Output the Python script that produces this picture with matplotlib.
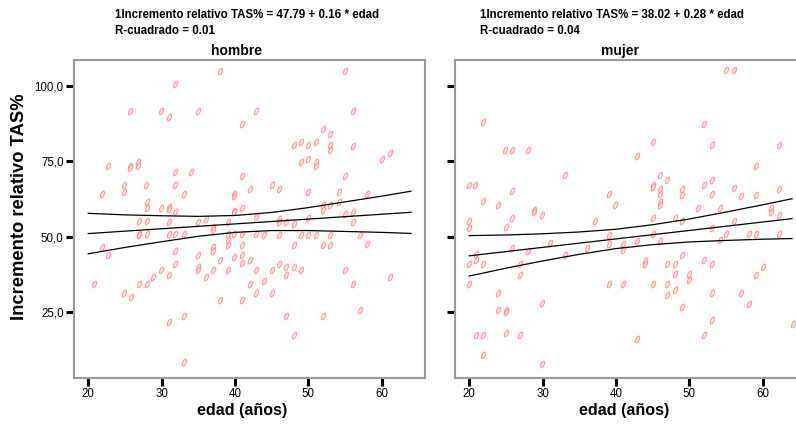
import numpy as np
import matplotlib
matplotlib.use("Agg")
import matplotlib.pyplot as plt
from matplotlib.path import Path
from matplotlib.transforms import Affine2D

# ==================================================
# DATA
# ==================================================

PANELS = ["hombre", "mujer"]

# regression coefficients printed above each panel
INTERCEPT = {"hombre": 47.79, "mujer": 38.02}
SLOPE = {"hombre": 0.16, "mujer": 0.28}
R2 = {"hombre": 0.01, "mujer": 0.04}

# scatter: age vs relative TAS increment
edad_hombre = [
    37.9, 31.8, 25.7, 29.9, 31.0, 34.9, 42.9, 40.9, 22.7, 25.7, 25.7, 26.8, 26.8,
    31.8, 34.0, 40.9, 24.9, 24.9, 27.9, 31.8, 21.9, 33.0, 39.9, 39.9, 42.0, 28.0,
    28.0, 29.9, 31.0, 31.0, 31.8, 39.9, 40.9, 26.9, 28.0, 31.0, 31.8, 31.0, 33.0,
    26.9, 26.9, 28.0, 34.9, 36.0, 37.0, 37.0, 39.0, 39.8, 42.9, 39.0, 39.0, 39.0,
    39.9, 40.9, 42.9, 21.9, 22.7, 31.8, 34.9, 37.0, 37.0, 40.9, 39.9, 40.9, 37.9,
    42.0, 40.9, 31.8, 34.9, 34.9, 37.0, 39.0, 42.9, 29.9, 31.0, 28.8, 36.0, 20.8,
    26.9, 28.0, 42.0, 42.9, 24.9, 25.8, 37.9, 40.9, 33.0, 31.0, 33.0,
    55.0, 56.1, 52.0, 53.0, 48.1, 49.0, 50.0, 51.1, 53.0, 53.0, 56.1, 49.0, 50.0,
    51.1, 51.1, 60.0, 61.1, 55.0, 45.1, 46.0, 50.0, 54.2, 58.0, 52.0, 52.0, 53.0,
    54.2, 55.0, 56.1, 46.0, 46.0, 47.0, 48.1, 50.0, 56.1, 44.0, 46.0, 49.0, 50.0,
    51.1, 53.0, 57.0, 48.1, 52.0, 53.0, 58.0, 46.0, 47.0, 48.1, 49.0, 45.1, 47.0,
    55.0, 44.0, 45.1, 56.1, 61.1, 57.0, 47.0, 52.0, 48.1,
]
tas_hombre = [
    104.9, 100.5, 91.5, 91.5, 89.5, 91.5, 91.5, 87.3, 73.3, 73.3, 72.8, 74.7, 73.3,
    71.4, 71.4, 70.1, 67.1, 64.7, 67.1, 67.1, 64.0, 64.0, 64.0, 63.5, 65.7, 61.4,
    59.3, 59.4, 59.8, 59.0, 58.1, 58.5, 59.4, 55.1, 55.1, 54.7, 51.0, 51.0, 51.0,
    51.0, 50.5, 51.0, 54.7, 55.9, 53.2, 52.1, 54.7, 58.1, 56.5, 51.0, 48.7, 47.1,
    51.0, 51.0, 51.0, 46.5, 43.9, 45.2, 43.9, 46.5, 45.2, 47.2, 43.2, 43.9, 42.1,
    42.1, 41.2, 41.0, 39.9, 39.0, 39.0, 39.0, 39.0, 39.0, 37.2, 36.6, 36.6, 34.4,
    34.4, 34.4, 34.4, 31.4, 31.3, 30.0, 29.1, 29.1, 23.7, 21.7, 8.3,
    104.8, 91.6, 85.5, 84.0, 80.3, 81.3, 80.2, 81.3, 80.2, 78.8, 80.0, 74.7, 75.6,
    74.7, 73.3, 75.6, 77.7, 70.1, 67.1, 65.9, 64.8, 64.8, 64.1, 60.6, 58.9, 60.3,
    61.4, 57.6, 58.1, 55.9, 54.8, 54.7, 54.0, 56.1, 54.8, 50.6, 50.6, 50.6, 50.6,
    50.6, 50.6, 50.6, 47.2, 47.2, 47.2, 47.4, 41.0, 39.9, 39.9, 38.8, 38.8, 37.1,
    38.8, 35.3, 31.3, 34.2, 36.6, 25.5, 23.6, 23.6, 17.3,
]

edad_mujer = [
    21.9, 24.9, 25.8, 28.0, 33.0, 19.9, 20.8, 25.8, 21.9, 23.9, 39.0, 39.9, 28.8,
    20.0, 20.0, 25.8, 25.0, 28.8, 29.9, 37.1, 39.0, 20.9, 20.9, 20.0, 21.9, 25.8,
    28.0, 26.9, 26.9, 31.0, 33.0, 36.0, 39.0, 39.0, 20.0, 23.9, 23.9, 25.0, 25.0,
    29.9, 20.9, 21.9, 25.0, 26.9, 21.9, 29.9,
    55.0, 56.1, 52.0, 45.1, 42.9, 53.1, 62.2, 59.1, 46.0, 47.0, 45.1, 45.1, 52.0,
    53.1, 46.0, 46.0, 49.0, 49.0, 53.1, 56.1, 57.0, 59.1, 62.2, 46.0, 46.0, 51.2,
    54.2, 61.1, 61.1, 62.2, 45.1, 48.1, 49.0, 56.1, 53.1, 45.1, 46.0, 42.9, 40.9,
    40.9, 55.0, 58.1, 59.1, 62.2, 54.2, 49.0, 44.0, 44.0, 47.0, 48.1, 52.0, 53.1,
    60.0, 59.1, 48.1, 50.0, 50.0, 40.9, 45.1, 47.0, 47.0, 48.1, 53.1, 57.0, 58.1,
    49.0, 53.1, 52.0, 42.9, 64.1,
]
tas_mujer = [
    87.9, 78.6, 78.6, 78.6, 70.3, 67.0, 67.0, 65.1, 61.8, 60.3, 64.0, 60.3, 58.7,
    55.1, 52.9, 56.3, 53.1, 58.0, 57.0, 55.0, 50.6, 44.1, 42.3, 40.8, 40.8, 46.3,
    45.1, 40.8, 37.1, 47.8, 43.8, 46.3, 47.6, 34.2, 34.2, 31.3, 25.5, 25.5, 24.9,
    28.0, 17.3, 17.3, 18.0, 17.3, 10.7, 7.7,
    105.1, 105.1, 87.2, 81.3, 76.6, 80.2, 80.2, 73.3, 70.3, 68.6, 67.0, 66.5, 67.0,
    68.6, 65.7, 64.0, 65.9, 63.9, 64.0, 66.0, 63.3, 63.8, 65.7, 61.3, 60.3, 59.3,
    59.3, 59.3, 58.3, 57.0, 56.3, 56.3, 55.1, 55.1, 53.0, 51.0, 48.5, 48.5, 47.4,
    45.4, 51.0, 51.0, 51.0, 51.0, 49.0, 43.9, 41.8, 41.0, 41.0, 41.0, 42.1, 41.0,
    39.9, 37.4, 37.7, 37.7, 35.5, 34.4, 34.4, 34.4, 30.8, 32.2, 31.3, 31.3, 27.5,
    26.6, 22.2, 17.3, 16.2, 20.9,
]

# half-width of the 95% mean confidence band, read at these ages
edad_banda = [20, 25, 30, 35, 40, 45, 50, 55, 60, 64]
hw_hombre = [6.7, 5.4, 4.3, 3.3, 2.8, 3.0, 3.8, 4.9, 6.0, 7.0]
hw_mujer = [6.7, 5.5, 4.5, 3.7, 3.2, 3.3, 3.8, 4.7, 5.7, 6.6]

SCATTER = {
    "hombre": (edad_hombre, tas_hombre),
    "mujer": (edad_mujer, tas_mujer),
}
BANDS = {"hombre": hw_hombre, "mujer": hw_mujer}

# ==================================================
# STYLE
# ==================================================

plt.rcParams["font.family"] = ["Liberation Sans", "DejaVu Sans"]

# little slanted ellipse, close to the SPSS point glyph
MARK = Path.unit_circle().transformed(Affine2D().scale(0.45, 1.0).rotate_deg(-25))

W, H = 796, 432
fig = plt.figure(figsize=(W / 100, H / 100), dpi=100)

ax_left = [74, 455]         # left frame edge of each panel, px
title_x = [236.8, 620]      # centre of the panel titles, px
label_x = [242, 624]        # centre of x labels, px
eq_x = [115, 480]

for i, panel in enumerate(PANELS):
    ax = fig.add_axes([ax_left[i] / W, (H - 377.5) / H, 351 / W, 317.8 / H])
    edad, tas = SCATTER[panel]
    ax.plot(edad, tas, linestyle="none", marker=MARK, markersize=5,
            markerfacecolor="#ffd6d6", markeredgecolor="#ff7a7a",
            markeredgewidth=0.8, alpha=0.7)

    xb = np.array(edad_banda, dtype=float)
    fit = INTERCEPT[panel] + SLOPE[panel] * xb
    hw = np.array(BANDS[panel])
    for yy in (fit + hw, fit, fit - hw):
        ax.plot(xb, yy, color="black", lw=0.9)

    ax.set_xlim(18.05, 65.9)
    ax.set_ylim(3.3, 108.6)
    ax.set_xticks([20, 30, 40, 50, 60])
    ax.set_yticks([25, 50, 75, 100])
    ax.tick_params(length=5.5, width=2.2, color="black", direction="out", pad=2)
    if i == 0:
        ax.set_yticklabels(["25,0", "50,0", "75,0", "100,0"], fontsize=8.3)
    else:
        ax.set_yticklabels([])
    ax.set_xticklabels(["20", "30", "40", "50", "60"], fontsize=8.3)
    for sp in ax.spines.values():
        sp.set_color("#9a9a9a")
        sp.set_linewidth(1.5)

    fig.text(eq_x[i] / W, 1 - 15 / H,
             f"1Incremento relativo TAS% = {INTERCEPT[panel]:.2f} + {SLOPE[panel]:.2f} * edad",
             fontsize=8.3, fontweight="bold", ha="left", va="center")
    fig.text(eq_x[i] / W, 1 - 31.5 / H, f"R-cuadrado = {R2[panel]:.2f}",
             fontsize=8.3, fontweight="bold", ha="left", va="center")
    fig.text(title_x[i] / W, 1 - 51 / H, panel, fontsize=10, fontweight="bold",
             ha="center", va="center")
    fig.text(label_x[i] / W, 1 - 410 / H, "edad (años)", fontsize=11.6,
             fontweight="bold", ha="center", va="center")

fig.text(20 / W, 1 - 207 / H, "Incremento relativo TAS%", rotation=90,
         fontsize=13.2, fontweight="bold", ha="center", va="center")

fig.savefig("out.png", dpi=100)
